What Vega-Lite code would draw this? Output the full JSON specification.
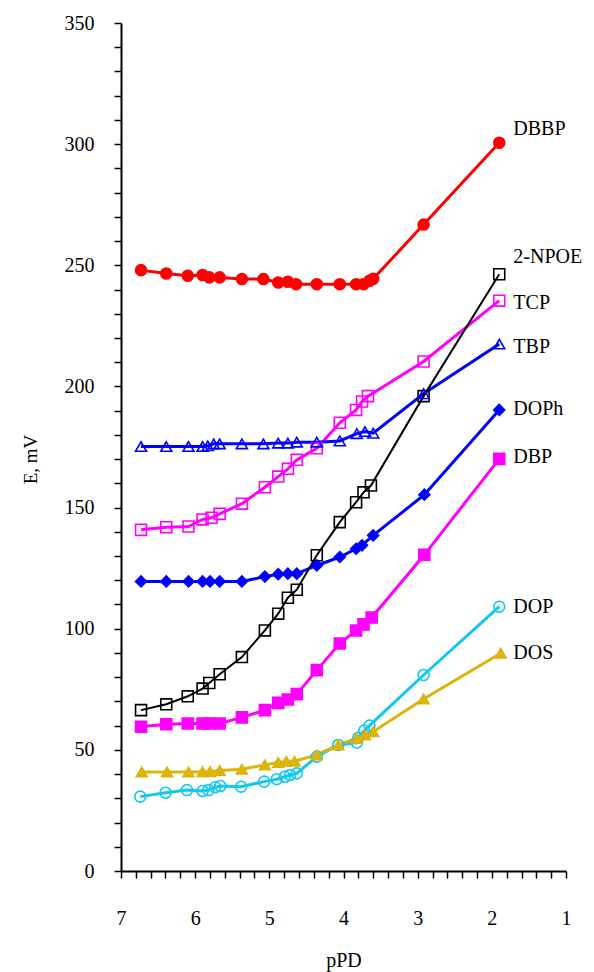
{
  "$schema": "https://vega.github.io/schema/vega-lite/v6.json",
  "width": 445,
  "height": 848,
  "autosize": {"type": "none"},
  "padding": {"left": 121, "top": 23, "right": 28, "bottom": 101},
  "background": "white",
  "config": {"view": {"stroke": null}},
  "datasets": {
    "pts": [
      {"s": "DBBP", "x": 6.73, "y": 248.0}, {"s": "DBBP", "x": 6.39, "y": 246.6}, {"s": "DBBP", "x": 6.10, "y": 245.7}, {"s": "DBBP", "x": 5.90, "y": 246.0}, {"s": "DBBP", "x": 5.81, "y": 245.0}, {"s": "DBBP", "x": 5.67, "y": 245.0}, {"s": "DBBP", "x": 5.37, "y": 244.3}, {"s": "DBBP", "x": 5.08, "y": 244.3}, {"s": "DBBP", "x": 4.88, "y": 242.9}, {"s": "DBBP", "x": 4.75, "y": 243.2}, {"s": "DBBP", "x": 4.64, "y": 242.2}, {"s": "DBBP", "x": 4.36, "y": 242.2}, {"s": "DBBP", "x": 4.05, "y": 242.2}, {"s": "DBBP", "x": 3.83, "y": 242.2}, {"s": "DBBP", "x": 3.73, "y": 242.2}, {"s": "DBBP", "x": 3.65, "y": 243.6}, {"s": "DBBP", "x": 3.60, "y": 244.4}, {"s": "DBBP", "x": 2.92, "y": 266.8}, {"s": "DBBP", "x": 1.90, "y": 300.6},

      {"s": "2-NPOE", "x": 6.73, "y": 66.4}, {"s": "2-NPOE", "x": 6.39, "y": 68.8}, {"s": "2-NPOE", "x": 6.10, "y": 72.1}, {"s": "2-NPOE", "x": 5.90, "y": 75.3}, {"s": "2-NPOE", "x": 5.81, "y": 77.6}, {"s": "2-NPOE", "x": 5.67, "y": 81.2}, {"s": "2-NPOE", "x": 5.37, "y": 88.3}, {"s": "2-NPOE", "x": 5.06, "y": 99.3}, {"s": "2-NPOE", "x": 4.88, "y": 106.2}, {"s": "2-NPOE", "x": 4.75, "y": 112.8}, {"s": "2-NPOE", "x": 4.63, "y": 116.1}, {"s": "2-NPOE", "x": 4.36, "y": 130.3}, {"s": "2-NPOE", "x": 4.05, "y": 144.0}, {"s": "2-NPOE", "x": 3.83, "y": 152.2}, {"s": "2-NPOE", "x": 3.73, "y": 156.3}, {"s": "2-NPOE", "x": 3.63, "y": 159.1}, {"s": "2-NPOE", "x": 2.92, "y": 196.0}, {"s": "2-NPOE", "x": 1.90, "y": 246.3},

      {"s": "TCP", "x": 6.73, "y": 140.8}, {"s": "TCP", "x": 6.39, "y": 141.9}, {"s": "TCP", "x": 6.09, "y": 142.2}, {"s": "TCP", "x": 5.90, "y": 145.1}, {"s": "TCP", "x": 5.78, "y": 145.8}, {"s": "TCP", "x": 5.67, "y": 147.4}, {"s": "TCP", "x": 5.37, "y": 151.6}, {"s": "TCP", "x": 5.06, "y": 158.4}, {"s": "TCP", "x": 4.88, "y": 162.8}, {"s": "TCP", "x": 4.75, "y": 166.0}, {"s": "TCP", "x": 4.63, "y": 169.7}, {"s": "TCP", "x": 4.36, "y": 174.5}, {"s": "TCP", "x": 4.05, "y": 185.0}, {"s": "TCP", "x": 3.83, "y": 190.3}, {"s": "TCP", "x": 3.75, "y": 193.8}, {"s": "TCP", "x": 3.67, "y": 196.0}, {"s": "TCP", "x": 2.92, "y": 210.3}, {"s": "TCP", "x": 1.90, "y": 235.4},

      {"s": "TBP", "x": 6.73, "y": 175.2}, {"s": "TBP", "x": 6.39, "y": 175.2}, {"s": "TBP", "x": 6.09, "y": 175.2}, {"s": "TBP", "x": 5.90, "y": 175.2}, {"s": "TBP", "x": 5.83, "y": 175.5}, {"s": "TBP", "x": 5.75, "y": 176.3}, {"s": "TBP", "x": 5.67, "y": 176.3}, {"s": "TBP", "x": 5.37, "y": 176.3}, {"s": "TBP", "x": 5.08, "y": 176.3}, {"s": "TBP", "x": 4.88, "y": 176.6}, {"s": "TBP", "x": 4.75, "y": 176.6}, {"s": "TBP", "x": 4.63, "y": 177.0}, {"s": "TBP", "x": 4.36, "y": 177.0}, {"s": "TBP", "x": 4.05, "y": 177.5}, {"s": "TBP", "x": 3.82, "y": 180.5}, {"s": "TBP", "x": 3.71, "y": 181.4}, {"s": "TBP", "x": 3.60, "y": 180.7}, {"s": "TBP", "x": 2.92, "y": 197.0}, {"s": "TBP", "x": 1.90, "y": 217.5},

      {"s": "DOPh", "x": 6.73, "y": 119.5}, {"s": "DOPh", "x": 6.39, "y": 119.5}, {"s": "DOPh", "x": 6.09, "y": 119.5}, {"s": "DOPh", "x": 5.90, "y": 119.5}, {"s": "DOPh", "x": 5.80, "y": 119.5}, {"s": "DOPh", "x": 5.67, "y": 119.5}, {"s": "DOPh", "x": 5.37, "y": 119.5}, {"s": "DOPh", "x": 5.06, "y": 121.5}, {"s": "DOPh", "x": 4.88, "y": 122.5}, {"s": "DOPh", "x": 4.75, "y": 122.7}, {"s": "DOPh", "x": 4.63, "y": 122.7}, {"s": "DOPh", "x": 4.36, "y": 126.1}, {"s": "DOPh", "x": 4.05, "y": 129.6}, {"s": "DOPh", "x": 3.83, "y": 133.0}, {"s": "DOPh", "x": 3.75, "y": 134.4}, {"s": "DOPh", "x": 3.60, "y": 138.5}, {"s": "DOPh", "x": 2.91, "y": 155.3}, {"s": "DOPh", "x": 1.90, "y": 190.3},

      {"s": "DBP", "x": 6.73, "y": 59.5}, {"s": "DBP", "x": 6.39, "y": 60.6}, {"s": "DBP", "x": 6.10, "y": 60.9}, {"s": "DBP", "x": 5.90, "y": 60.9}, {"s": "DBP", "x": 5.81, "y": 60.9}, {"s": "DBP", "x": 5.67, "y": 60.9}, {"s": "DBP", "x": 5.37, "y": 63.4}, {"s": "DBP", "x": 5.06, "y": 66.4}, {"s": "DBP", "x": 4.88, "y": 69.4}, {"s": "DBP", "x": 4.75, "y": 70.8}, {"s": "DBP", "x": 4.63, "y": 73.0}, {"s": "DBP", "x": 4.36, "y": 82.9}, {"s": "DBP", "x": 4.05, "y": 93.9}, {"s": "DBP", "x": 3.83, "y": 99.3}, {"s": "DBP", "x": 3.73, "y": 101.8}, {"s": "DBP", "x": 3.62, "y": 104.6}, {"s": "DBP", "x": 2.91, "y": 130.5}, {"s": "DBP", "x": 1.90, "y": 170.1},

      {"s": "DOP", "x": 6.74, "y": 30.7}, {"s": "DOP", "x": 6.40, "y": 32.3}, {"s": "DOP", "x": 6.11, "y": 33.4}, {"s": "DOP", "x": 5.90, "y": 33.0}, {"s": "DOP", "x": 5.82, "y": 33.4}, {"s": "DOP", "x": 5.73, "y": 34.6}, {"s": "DOP", "x": 5.66, "y": 35.1}, {"s": "DOP", "x": 5.38, "y": 34.8}, {"s": "DOP", "x": 5.07, "y": 36.9}, {"s": "DOP", "x": 4.90, "y": 37.9}, {"s": "DOP", "x": 4.79, "y": 38.9}, {"s": "DOP", "x": 4.72, "y": 39.6}, {"s": "DOP", "x": 4.63, "y": 40.3}, {"s": "DOP", "x": 4.36, "y": 47.2}, {"s": "DOP", "x": 4.07, "y": 52.0}, {"s": "DOP", "x": 3.82, "y": 53.0}, {"s": "DOP", "x": 3.80, "y": 55.0}, {"s": "DOP", "x": 3.72, "y": 58.0}, {"s": "DOP", "x": 3.65, "y": 60.0}, {"s": "DOP", "x": 2.92, "y": 80.9}, {"s": "DOP", "x": 1.90, "y": 109.1},

      {"s": "DOS", "x": 6.72, "y": 40.9}, {"s": "DOS", "x": 6.38, "y": 40.9}, {"s": "DOS", "x": 6.09, "y": 40.9}, {"s": "DOS", "x": 5.90, "y": 41.0}, {"s": "DOS", "x": 5.80, "y": 41.0}, {"s": "DOS", "x": 5.67, "y": 41.5}, {"s": "DOS", "x": 5.37, "y": 42.0}, {"s": "DOS", "x": 5.06, "y": 43.8}, {"s": "DOS", "x": 4.88, "y": 44.8}, {"s": "DOS", "x": 4.77, "y": 45.3}, {"s": "DOS", "x": 4.66, "y": 45.3}, {"s": "DOS", "x": 4.36, "y": 47.9}, {"s": "DOS", "x": 4.07, "y": 52.0}, {"s": "DOS", "x": 3.82, "y": 54.8}, {"s": "DOS", "x": 3.71, "y": 56.2}, {"s": "DOS", "x": 3.60, "y": 57.5}, {"s": "DOS", "x": 2.92, "y": 71.0}, {"s": "DOS", "x": 1.88, "y": 89.9}
    ],
    "labels": [
      {"s": "DBBP", "x": 1.71, "y": 303.6},
      {"s": "2-NPOE", "x": 1.71, "y": 250.9},
      {"s": "TCP", "x": 1.71, "y": 231.9},
      {"s": "TBP", "x": 1.71, "y": 214.0},
      {"s": "DOPh", "x": 1.71, "y": 188.3},
      {"s": "DBP", "x": 1.71, "y": 168.3},
      {"s": "DOP", "x": 1.71, "y": 106.4},
      {"s": "DOS", "x": 1.71, "y": 87.5}
    ]
  },
  "encoding": {
    "x": {
      "field": "x", "type": "quantitative",
      "scale": {"domain": [1, 7], "reverse": true, "nice": false, "zero": false},
      "axis": {
        "title": "pPD",
        "values": [1, 1.2, 1.4, 1.6, 1.8, 2, 2.2, 2.4, 2.6, 2.8, 3, 3.2, 3.4, 3.6, 3.8, 4, 4.2, 4.4, 4.6, 4.8, 5, 5.2, 5.4, 5.6, 5.8, 6, 6.2, 6.4, 6.6, 6.8, 7],
        "labelExpr": "abs(datum.value - round(datum.value)) < 0.001 ? format(datum.value, 'd') : ''",
        "labelOverlap": false, "labelFlush": false, "labelBound": false,
        "grid": false, "tickSize": 7, "tickWidth": 1.5, "tickColor": "black",
        "domainColor": "black", "domainWidth": 2,
        "labelFont": "Liberation Serif, Times New Roman, serif", "labelFontSize": 20, "labelColor": "black", "labelPadding": 30,
        "titleFont": "Liberation Serif, Times New Roman, serif", "titleFontSize": 20, "titleFontWeight": "normal", "titleColor": "black", "titlePadding": 22
      }
    },
    "y": {
      "field": "y", "type": "quantitative",
      "scale": {"domain": [0, 350], "nice": false},
      "axis": {
        "title": "E, mV",
        "values": [0, 10, 20, 30, 40, 50, 60, 70, 80, 90, 100, 110, 120, 130, 140, 150, 160, 170, 180, 190, 200, 210, 220, 230, 240, 250, 260, 270, 280, 290, 300, 310, 320, 330, 340, 350],
        "labelExpr": "datum.value % 50 == 0 ? datum.label : ''",
        "labelOverlap": false, "labelBound": false, "labelFlush": false,
        "grid": false, "tickSize": 7, "tickWidth": 1.5, "tickColor": "black",
        "domainColor": "black", "domainWidth": 2,
        "labelFont": "Liberation Serif, Times New Roman, serif", "labelFontSize": 20, "labelColor": "black", "labelPadding": 20,
        "titleFont": "Liberation Serif, Times New Roman, serif", "titleFontSize": 19, "titleFontWeight": "normal", "titleColor": "black", "titlePadding": 24, "titleY": 436
      }
    }
  },
  "layer": [
    {
      "data": {"name": "pts"},
      "transform": [{"filter": "datum.s != '2-NPOE'"}],
      "mark": {"type": "line", "strokeWidth": 3},
      "encoding": {
        "detail": {"field": "s"},
        "color": {
          "field": "s", "type": "nominal", "legend": null,
          "scale": {"domain": ["DBBP", "2-NPOE", "TCP", "TBP", "DOPh", "DBP", "DOP", "DOS"],
                    "range": ["#FF0000", "#000000", "#FF00FF", "#0000FF", "#0000FF", "#FF00FF", "#10C8F0", "#DDB40A"]}
        }
      }
    },
    {
      "data": {"name": "pts"},
      "transform": [{"filter": "datum.s == '2-NPOE'"}],
      "mark": {"type": "line", "strokeWidth": 2, "color": "#000000"},
      "encoding": {}
    },
    {
      "data": {"name": "pts"},
      "mark": {"type": "point", "opacity": 1, "strokeWidth": 1.6, "size": 120},
      "encoding": {
        "shape": {
          "field": "s", "type": "nominal", "legend": null,
          "scale": {"domain": ["DBBP", "2-NPOE", "TCP", "TBP", "DOPh", "DBP", "DOP", "DOS"],
                    "range": ["circle", "square", "square", "triangle-up", "diamond", "square", "circle", "triangle-up"]}
        },
        "stroke": {
          "field": "s", "type": "nominal", "legend": null,
          "scale": {"domain": ["DBBP", "2-NPOE", "TCP", "TBP", "DOPh", "DBP", "DOP", "DOS"],
                    "range": ["#FF0000", "#000000", "#FF00FF", "#0000FF", "#0000FF", "#FF00FF", "#10C8F0", "#DDB40A"]}
        },
        "fill": {
          "field": "s", "type": "nominal", "legend": null,
          "scale": {"domain": ["DBBP", "2-NPOE", "TCP", "TBP", "DOPh", "DBP", "DOP", "DOS"],
                    "range": ["#FF0000", "transparent", "transparent", "transparent", "#0000FF", "#FF00FF", "transparent", "#DDB40A"]}
        }
      }
    },
    {
      "data": {"name": "labels"},
      "mark": {"type": "text", "align": "left", "baseline": "alphabetic", "font": "Liberation Serif, Times New Roman, serif", "fontSize": 20, "color": "black"},
      "encoding": {
        "text": {"field": "s", "type": "nominal"}
      }
    }
  ]
}
